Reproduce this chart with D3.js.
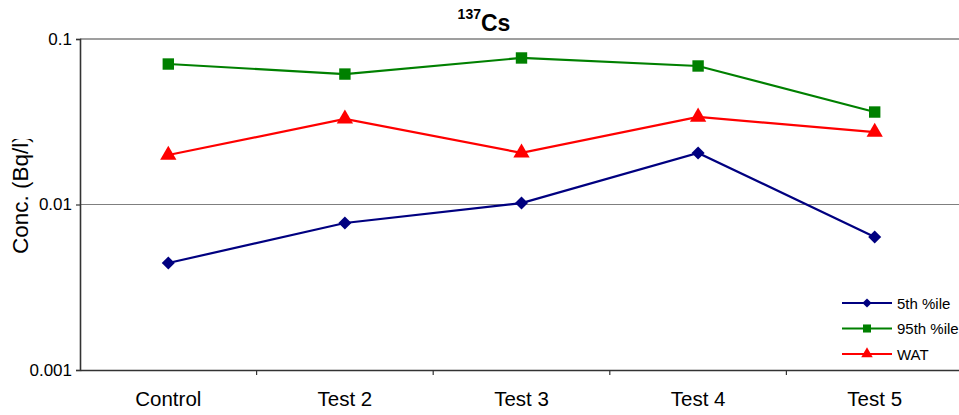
<!DOCTYPE html>
<html>
<head>
<meta charset="utf-8">
<script src="https://cdn.jsdelivr.net/npm/d3@7/dist/d3.min.js"></script>
<style>
  html, body { margin: 0; padding: 0; background: #fff; }
  svg { display: block; font-family: "Liberation Sans", Arial, sans-serif; }
</style>
</head>
<body>
<svg id="chart" width="959" height="415"></svg>
<script>
// Sample groups along the x axis
const categories = ["Control", "Test 2", "Test 3", "Test 4", "Test 5"];

// 137Cs concentrations (Bq/l) per group
const p5Values  = [0.00443, 0.00773, 0.0102, 0.0205, 0.00637];
const p95Values = [0.0706, 0.0614, 0.0768, 0.0687, 0.0362];
const watValues = [0.0199, 0.0329, 0.0205, 0.0338, 0.0274];

const seriesNames = ["5th %ile", "95th %ile", "WAT"];
const yTicks = [0.001, 0.01, 0.1];
const yTickLabels = ["0.001", "0.01", "0.1"];

const series = [
  { name: seriesNames[0], values: p5Values,  color: "#000080", symbol: d3.symbolSquare,   size: 85,  rotate: 45 },
  { name: seriesNames[1], values: p95Values, color: "#008000", symbol: d3.symbolSquare,   size: 130, rotate: 0 },
  { name: seriesNames[2], values: watValues, color: "#ff0000", symbol: d3.symbolTriangle, size: 115, rotate: 0 }
];

const svg = d3.select("#chart");
const plotLeft = 80, plotRight = 963, plotTop = 39, plotBottom = 370;

const x = d3.scaleBand().domain(categories).range([plotLeft, plotRight]).padding(0);
const y = d3.scaleLog().domain([0.001, 0.1]).range([plotBottom, plotTop]);

// Horizontal gridlines at each decade
svg.append("g")
  .selectAll("line")
  .data(yTicks.slice(1))
  .join("line")
  .attr("x1", plotLeft).attr("x2", 959)
  .attr("y1", d => y(d)).attr("y2", d => y(d))
  .attr("stroke", "#7f7f7f")
  .attr("stroke-width", d => d === 0.1 ? 1.6 : 1.2);

// Y axis
const yAxis = svg.append("g")
  .attr("transform", `translate(${plotLeft},0)`)
  .call(d3.axisLeft(y).tickValues(yTicks).tickFormat((d, i) => yTickLabels[i]).tickSizeOuter(0).tickSize(4).tickPadding(4));
yAxis.select(".domain").attr("stroke", "#333").attr("stroke-width", 1.6);
yAxis.selectAll(".tick line").attr("stroke", "#333").attr("stroke-width", 1.2);
yAxis.selectAll(".tick text").attr("font-size", 17).attr("fill", "#000")
  .attr("font-family", "'Liberation Sans', Arial, sans-serif");

// X axis
const xAxis = svg.append("g")
  .attr("transform", `translate(0,${plotBottom})`)
  .call(d3.axisBottom(x).tickSize(0).tickPadding(21));
xAxis.select(".domain").attr("stroke", "#333").attr("stroke-width", 1.6);
xAxis.selectAll(".tick text").attr("font-size", 20.5).attr("fill", "#000")
  .attr("font-family", "'Liberation Sans', Arial, sans-serif");
// Category separator ticks
svg.append("g")
  .selectAll("line")
  .data(categories.slice(1))
  .join("line")
  .attr("x1", d => x(d)).attr("x2", d => x(d))
  .attr("y1", plotBottom).attr("y2", plotBottom + 5)
  .attr("stroke", "#333").attr("stroke-width", 1.2);

// Series lines and markers
const line = d3.line()
  .x((d, i) => x(categories[i]) + x.bandwidth() / 2)
  .y(d => y(d));

series.forEach(s => {
  svg.append("path")
    .datum(s.values)
    .attr("d", line)
    .attr("fill", "none")
    .attr("stroke", s.color)
    .attr("stroke-width", 2.2);
  svg.append("g")
    .selectAll("path")
    .data(s.values)
    .join("path")
    .attr("d", d3.symbol().type(s.symbol).size(s.size))
    .attr("transform", (d, i) => `translate(${x(categories[i]) + x.bandwidth() / 2},${y(d)}) rotate(${s.rotate})`)
    .attr("fill", s.color);
});

// Legend
const legend = svg.append("g").attr("transform", "translate(833,287)");
legend.append("rect")
  .attr("x", 0).attr("y", 0).attr("width", 130).attr("height", 82)
  .attr("fill", "#fff").attr("fill-opacity", 0.88);
series.forEach((s, i) => {
  const g = legend.append("g").attr("transform", `translate(0,${16 + i * 25.5})`);
  g.append("line").attr("x1", 9).attr("x2", 59).attr("y1", 0).attr("y2", 0)
    .attr("stroke", s.color).attr("stroke-width", 2);
  g.append("path")
    .attr("d", d3.symbol().type(s.symbol).size(s.size * 0.5))
    .attr("transform", `translate(34,0) rotate(${s.rotate})`)
    .attr("fill", s.color);
  g.append("text").attr("x", 64).attr("y", 5.5)
    .attr("font-size", 15).attr("fill", "#000")
    .text(s.name);
});

// Title with superscript mass number
const title = svg.append("text")
  .attr("x", 484).attr("y", 31)
  .attr("text-anchor", "middle")
  .attr("font-weight", "bold");
title.append("tspan").attr("font-size", 14).attr("dy", -12).text("137");
title.append("tspan").attr("font-size", 23).attr("dy", 12).text("Cs");

// Y axis title, clipped at the top
svg.append("clipPath").attr("id", "ylabel-clip")
  .append("rect").attr("x", 0).attr("y", 139).attr("width", 40).attr("height", 200);
svg.append("g")
  .attr("clip-path", "url(#ylabel-clip)")
  .append("text")
  .attr("transform", "translate(28,254) rotate(-90)")
  .attr("text-anchor", "start")
  .attr("font-size", 22.5)
  .attr("fill", "#000")
  .text("Conc. (Bq/l)");
</script>
</body>
</html>
